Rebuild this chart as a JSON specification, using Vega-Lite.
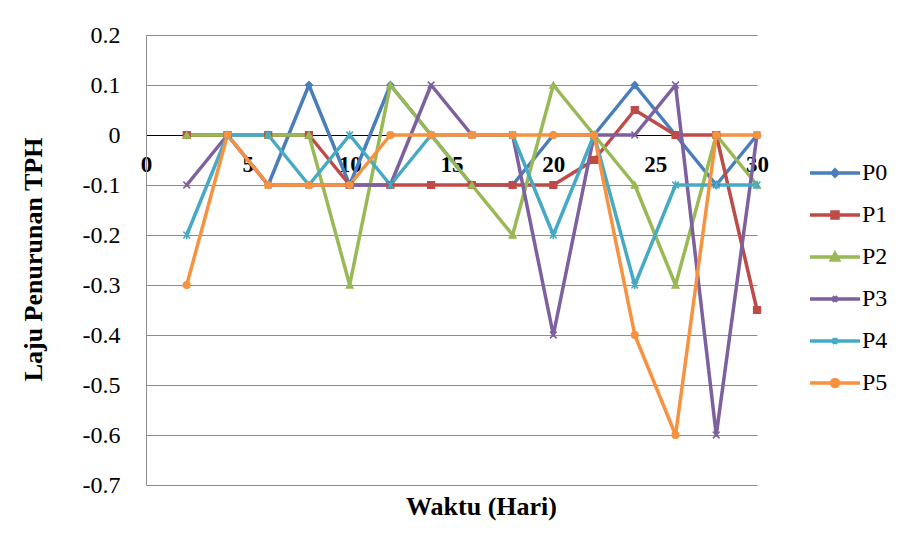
{
  "$schema": "https://vega.github.io/schema/vega-lite/v6.json",
  "autosize": "none",
  "width": 611,
  "height": 450,
  "padding": {"left": 146, "top": 35, "right": 147, "bottom": 58},
  "background": "white",
  "config": {
    "view": {"stroke": null},
    "font": "Liberation Serif"
  },
  "datasets": {
    "tph": [
      {"hari": 2, "seri": "P0", "laju": 0}, {"hari": 4, "seri": "P0", "laju": 0}, {"hari": 6, "seri": "P0", "laju": -0.1}, {"hari": 8, "seri": "P0", "laju": 0.1}, {"hari": 10, "seri": "P0", "laju": -0.1}, {"hari": 12, "seri": "P0", "laju": 0.1}, {"hari": 14, "seri": "P0", "laju": 0}, {"hari": 16, "seri": "P0", "laju": -0.1}, {"hari": 18, "seri": "P0", "laju": -0.1}, {"hari": 20, "seri": "P0", "laju": 0}, {"hari": 22, "seri": "P0", "laju": 0}, {"hari": 24, "seri": "P0", "laju": 0.1}, {"hari": 26, "seri": "P0", "laju": 0}, {"hari": 28, "seri": "P0", "laju": -0.1}, {"hari": 30, "seri": "P0", "laju": 0},
      {"hari": 2, "seri": "P1", "laju": 0}, {"hari": 4, "seri": "P1", "laju": 0}, {"hari": 6, "seri": "P1", "laju": 0}, {"hari": 8, "seri": "P1", "laju": 0}, {"hari": 10, "seri": "P1", "laju": -0.1}, {"hari": 12, "seri": "P1", "laju": -0.1}, {"hari": 14, "seri": "P1", "laju": -0.1}, {"hari": 16, "seri": "P1", "laju": -0.1}, {"hari": 18, "seri": "P1", "laju": -0.1}, {"hari": 20, "seri": "P1", "laju": -0.1}, {"hari": 22, "seri": "P1", "laju": -0.05}, {"hari": 24, "seri": "P1", "laju": 0.05}, {"hari": 26, "seri": "P1", "laju": 0}, {"hari": 28, "seri": "P1", "laju": 0}, {"hari": 30, "seri": "P1", "laju": -0.35},
      {"hari": 2, "seri": "P2", "laju": 0}, {"hari": 4, "seri": "P2", "laju": 0}, {"hari": 6, "seri": "P2", "laju": 0}, {"hari": 8, "seri": "P2", "laju": 0}, {"hari": 10, "seri": "P2", "laju": -0.3}, {"hari": 12, "seri": "P2", "laju": 0.1}, {"hari": 14, "seri": "P2", "laju": 0}, {"hari": 16, "seri": "P2", "laju": -0.1}, {"hari": 18, "seri": "P2", "laju": -0.2}, {"hari": 20, "seri": "P2", "laju": 0.1}, {"hari": 22, "seri": "P2", "laju": 0}, {"hari": 24, "seri": "P2", "laju": -0.1}, {"hari": 26, "seri": "P2", "laju": -0.3}, {"hari": 28, "seri": "P2", "laju": 0}, {"hari": 30, "seri": "P2", "laju": -0.1},
      {"hari": 2, "seri": "P3", "laju": -0.1}, {"hari": 4, "seri": "P3", "laju": 0}, {"hari": 6, "seri": "P3", "laju": -0.1}, {"hari": 8, "seri": "P3", "laju": -0.1}, {"hari": 10, "seri": "P3", "laju": -0.1}, {"hari": 12, "seri": "P3", "laju": -0.1}, {"hari": 14, "seri": "P3", "laju": 0.1}, {"hari": 16, "seri": "P3", "laju": 0}, {"hari": 18, "seri": "P3", "laju": 0}, {"hari": 20, "seri": "P3", "laju": -0.4}, {"hari": 22, "seri": "P3", "laju": 0}, {"hari": 24, "seri": "P3", "laju": 0}, {"hari": 26, "seri": "P3", "laju": 0.1}, {"hari": 28, "seri": "P3", "laju": -0.6}, {"hari": 30, "seri": "P3", "laju": 0},
      {"hari": 2, "seri": "P4", "laju": -0.2}, {"hari": 4, "seri": "P4", "laju": 0}, {"hari": 6, "seri": "P4", "laju": 0}, {"hari": 8, "seri": "P4", "laju": -0.1}, {"hari": 10, "seri": "P4", "laju": 0}, {"hari": 12, "seri": "P4", "laju": -0.1}, {"hari": 14, "seri": "P4", "laju": 0}, {"hari": 16, "seri": "P4", "laju": 0}, {"hari": 18, "seri": "P4", "laju": 0}, {"hari": 20, "seri": "P4", "laju": -0.2}, {"hari": 22, "seri": "P4", "laju": 0}, {"hari": 24, "seri": "P4", "laju": -0.3}, {"hari": 26, "seri": "P4", "laju": -0.1}, {"hari": 28, "seri": "P4", "laju": -0.1}, {"hari": 30, "seri": "P4", "laju": -0.1},
      {"hari": 2, "seri": "P5", "laju": -0.3}, {"hari": 4, "seri": "P5", "laju": 0}, {"hari": 6, "seri": "P5", "laju": -0.1}, {"hari": 8, "seri": "P5", "laju": -0.1}, {"hari": 10, "seri": "P5", "laju": -0.1}, {"hari": 12, "seri": "P5", "laju": 0}, {"hari": 14, "seri": "P5", "laju": 0}, {"hari": 16, "seri": "P5", "laju": 0}, {"hari": 18, "seri": "P5", "laju": 0}, {"hari": 20, "seri": "P5", "laju": 0}, {"hari": 22, "seri": "P5", "laju": 0}, {"hari": 24, "seri": "P5", "laju": -0.4}, {"hari": 26, "seri": "P5", "laju": -0.6}, {"hari": 28, "seri": "P5", "laju": 0}, {"hari": 30, "seri": "P5", "laju": 0}
    ]
  },
  "data": {"name": "tph"},
  "encoding": {
    "x": {
      "field": "hari", "type": "quantitative",
      "scale": {"domain": [0, 30], "nice": false, "zero": false},
      "axis": {
        "values": [0, 5, 10, 15, 20, 25, 30],
        "offset": -350, "grid": false, "ticks": false,
        "domainColor": "#000000", "domainWidth": 1,
        "labelFont": "Liberation Serif", "labelFontWeight": "bold", "labelFontSize": 23,
        "labelColor": "#000000", "labelPadding": 18, "labelFlush": false, "labelOverlap": false,
        "title": "Waktu (Hari)", "titleFont": "Liberation Serif", "titleFontWeight": "bold",
        "titleFontSize": 26, "titleColor": "#000000",
        "titleX": 335, "titleY": 379, "titleBaseline": "alphabetic", "titleAlign": "center"
      }
    },
    "y": {
      "field": "laju", "type": "quantitative",
      "scale": {"domain": [-0.7, 0.2], "nice": false, "zero": false},
      "axis": {
        "values": [0.2, 0.1, 0, -0.1, -0.2, -0.3, -0.4, -0.5, -0.6, -0.7],
        "labelExpr": "replace(format(datum.value, '.1~f'), '\u2212', '-')",
        "grid": true, "gridColor": "#8c8c8c", "gridWidth": 1,
        "ticks": false, "domainColor": "#8c8c8c", "domainWidth": 1,
        "labelFont": "Liberation Serif", "labelFontSize": 24, "labelColor": "#000000",
        "labelPadding": 26,
        "title": "Laju Penurunan TPH", "titleFont": "Liberation Serif", "titleFontWeight": "bold",
        "titleFontSize": 26, "titleColor": "#000000",
        "titleX": -105, "titleY": 224, "titleBaseline": "alphabetic", "titleAlign": "center", "titleAngle": -90
      }
    }
  },
  "resolve": {"legend": {"color": "independent"}},
  "layer": [
    {
      "mark": {"type": "line", "strokeWidth": 3.5, "strokeJoin": "round", "strokeCap": "round"},
      "encoding": {
        "color": {
          "field": "seri", "type": "nominal",
          "scale": {"domain": ["P0", "P1", "P2", "P3", "P4", "P5"], "range": ["#4a7ebb", "#be4b48", "#98b954", "#7d60a0", "#46aac5", "#f69240"]},
          "legend": {
            "orient": "none", "legendX": 677, "legendY": 126, "padding": 0,
            "title": null, "symbolSize": 400, "symbolStrokeWidth": 3.5,
            "labelFont": "Liberation Serif", "labelFontSize": 24, "labelColor": "#000000",
            "labelOffset": 15, "rowPadding": 18,
            "encode": {
              "symbols": {
                "update": {
                  "shape": {"signal": "datum.value === 'P0' ? 'M-2.5,0H2.5M0,-0.3L0.3,0L0,0.3L-0.3,0Z' : datum.value === 'P1' ? 'M-2.5,0H2.5M-0.3,-0.3H0.3V0.3H-0.3Z' : datum.value === 'P2' ? 'M-2.5,0H2.5M0,-0.35L0.35,0.3H-0.35Z' : datum.value === 'P3' ? 'M-2.5,0H2.5M-0.25,-0.25L0.25,0.25M-0.25,0.25L0.25,-0.25' : datum.value === 'P4' ? 'M-2.5,0H2.5M-0.25,-0.25L0.25,0.25M-0.25,0.25L0.25,-0.25M0,-0.3V0.3' : 'M-2.5,0H2.5M0.35,0A0.35,0.35,0,1,1,-0.35,0A0.35,0.35,0,1,1,0.35,0Z'"},
                  "fill": {"signal": "scale('color', datum.value)"},
                  "stroke": {"signal": "scale('color', datum.value)"},
                  "strokeWidth": {"value": 3.5}
                }
              }
            }
          }
        }
      }
    },
    {
      "mark": {"type": "point", "filled": true, "strokeWidth": 1.5, "size": 45, "opacity": 1},
      "encoding": {
        "color": {"field": "seri", "type": "nominal", "legend": null},
        "stroke": {
          "field": "seri", "type": "nominal", "legend": null,
          "scale": {"domain": ["P0", "P1", "P2", "P3", "P4", "P5"], "range": ["#4a7ebb", "#be4b48", "#98b954", "#7d60a0", "#46aac5", "#f69240"]}
        },
        "shape": {
          "field": "seri", "type": "nominal", "legend": null,
          "scale": {"domain": ["P0", "P1", "P2", "P3", "P4", "P5"], "range": ["diamond", "square", "triangle-up", "M-1,-1L1,1M-1,1L1,-1", "M-1,-1L1,1M-1,1L1,-1M0,-1.3V1.3", "circle"]}
        }
      }
    }
  ]
}
